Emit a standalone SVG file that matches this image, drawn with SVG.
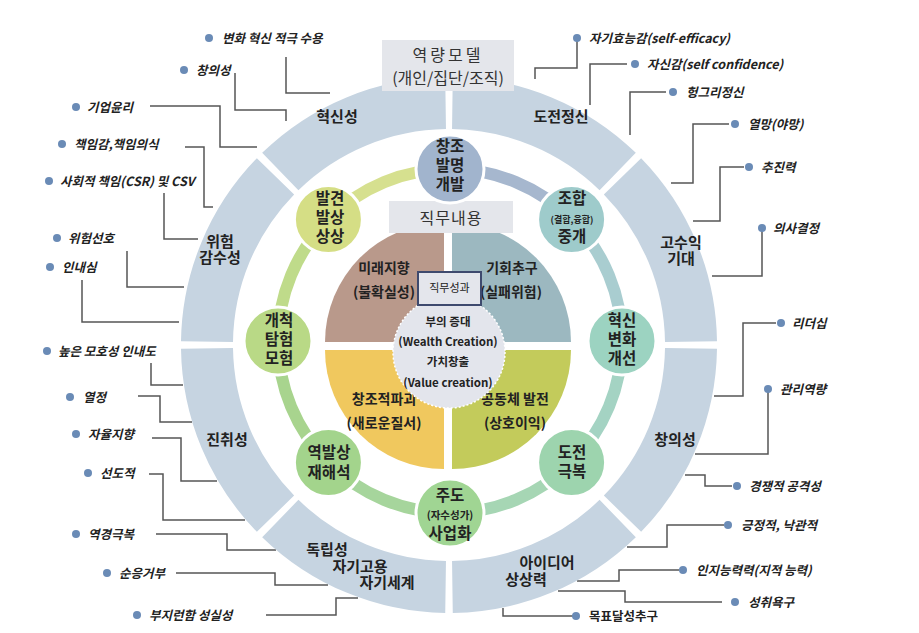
<svg xmlns="http://www.w3.org/2000/svg" width="919" height="633" viewBox="0 0 919 633">
<defs>
<style>
text{font-family:"Noto Sans CJK KR","Noto Sans",sans-serif;fill:#222;}
.seg{fill:none;stroke:#c6d4e1;stroke-width:52;}
.rl{font-size:15px;font-weight:bold;text-anchor:middle;}
.cl{font-size:15.5px;font-weight:bold;text-anchor:middle;}
.cs{font-size:9px;}
.ql{font-size:14px;font-weight:bold;text-anchor:middle;}
.ct{font-size:11.5px;font-weight:bold;text-anchor:middle;}
.co{font-size:12.5px;font-weight:bold;font-style:italic;}
.dot{fill:#6a8bb6;}
.ln{fill:none;stroke:#555;stroke-width:1.5;}
.node{stroke:#fff;stroke-width:3;}
.band{fill:none;stroke-width:12;}
.box{fill:#e4e6eb;}
.hd{font-size:16px;text-anchor:middle;fill:#333;}
</style>
</defs>
<rect width="919" height="633" fill="#fff"/>

<g id="connectors">
<polyline class="ln" points="286,57 286,93 330,93"/>
<polyline class="ln" points="235,73 235,110 286,110 286,121"/>
<polyline class="ln" points="150,106 220,106 220,147 257,147"/>
<polyline class="ln" points="185,147 204,147 204,207 213,207"/>
<polyline class="ln" points="164,193 164,239 198,239"/>
<polyline class="ln" points="127,251 127,287 184,287"/>
<polyline class="ln" points="82,280 82,322 179,322"/>
<polyline class="ln" points="151,363 151,385 183,385"/>
<polyline class="ln" points="138,396 160,396 160,422 192,422"/>
<polyline class="ln" points="152,438 181,438 181,481 217,481"/>
<polyline class="ln" points="149,474 163,474 163,520 245,520"/>
<polyline class="ln" points="156,534 227,534 227,550 276,550"/>
<polyline class="ln" points="176,573 275,573 275,585 328,585"/>
<polyline class="ln" points="266,615 336,615 336,598 358,598"/>
<polyline class="ln" points="577,38 577,68 535,68 535,79"/>
<polyline class="ln" points="627,64 590,64 590,105"/>
<polyline class="ln" points="666,92 630,92 630,135"/>
<polyline class="ln" points="729,124 693,124 693,183 671,183"/>
<polyline class="ln" points="744,167 720,167 720,221 693,221"/>
<polyline class="ln" points="762,228 762,276 712,276"/>
<polyline class="ln" points="776,323 743,323 743,396 714,396"/>
<polyline class="ln" points="768,389 768,454 695,454"/>
<polyline class="ln" points="732,486 705,486 705,475 685,475"/>
<polyline class="ln" points="724,525 667,525 667,547 627,547"/>
<polyline class="ln" points="679,570 619,570 619,581 577,581"/>
<polyline class="ln" points="722,602 625,602 625,591 558,591"/>
<polyline class="ln" points="576,616 503,616 503,608"/>
</g>

<g id="outer-ring">
<g id="seg-hyeoksinseong"><path class="seg" d="M280.3,171.5 A242,242 0 0 1 445.6,103"/><text class="rl" x="337" y="122">혁신성</text></g>
<g id="seg-dojeonjeongsin"><path class="seg" d="M452.4,103 A242,242 0 0 1 617.7,171.5"/><text class="rl" x="561" y="122">도전정신</text></g>
<g id="seg-gosuik"><path class="seg" d="M622.5,176.3 A242,242 0 0 1 691,341.6"/><text class="rl"><tspan x="681" y="248">고수익</tspan><tspan x="681" y="264">기대</tspan></text></g>
<g id="seg-changuiseong"><path class="seg" d="M691,348.4 A242,242 0 0 1 622.5,513.7"/><text class="rl" x="675" y="445">창의성</text></g>
<g id="seg-idea"><path class="seg" d="M617.7,518.5 A242,242 0 0 1 452.4,587"/><text class="rl"><tspan x="547" y="568">아이디어</tspan><tspan x="526" y="585">상상력</tspan></text></g>
<g id="seg-dongnip"><path class="seg" d="M445.6,587 A242,242 0 0 1 280.3,518.5"/><text class="rl"><tspan x="327" y="555">독립성</tspan><tspan x="360" y="572">자기고용</tspan><tspan x="387" y="588">자기세계</tspan></text></g>
<g id="seg-jinchwi"><path class="seg" d="M275.5,513.7 A242,242 0 0 1 207,348.4"/><text class="rl" x="227" y="445">진취성</text></g>
<g id="seg-wiheom"><path class="seg" d="M207,341.6 A242,242 0 0 1 275.5,176.3"/><text class="rl"><tspan x="220" y="247">위험</tspan><tspan x="220" y="263">감수성</tspan></text></g>
</g>

<g id="model-title">
<rect class="box" x="382" y="40" width="132" height="51"/>
<text class="hd"><tspan x="448" y="61" letter-spacing="3">역량모델</tspan><tspan x="448" y="84">(개인/집단/조직)</tspan></text>
</g>

<g id="middle-ring">
<path class="band" stroke="#a6b7ce" d="M450,169 A172,172 0 0 1 571.62,219.38"/>
<path class="band" stroke="#a9cdd0" d="M571.62,219.38 A172,172 0 0 1 622,341"/>
<path class="band" stroke="#a4d3c3" d="M622,341 A172,172 0 0 1 571.62,462.62"/>
<path class="band" stroke="#a6d6b4" d="M571.62,462.62 A172,172 0 0 1 450,513"/>
<path class="band" stroke="#a6d59c" d="M450,513 A172,172 0 0 1 328.38,462.62"/>
<path class="band" stroke="#a8d48e" d="M328.38,462.62 A172,172 0 0 1 278,341"/>
<path class="band" stroke="#bfdb8a" d="M278,341 A172,172 0 0 1 328.38,219.38"/>
<path class="band" stroke="#d6e08f" d="M328.38,219.38 A172,172 0 0 1 450,169"/>
</g>

<g id="pie">
<path fill="#b9998b" d="M444,342 L325,342 A119,119 0 0 1 444,223 Z"/>
<path fill="#9cb8c0" d="M452,342 L452,223 A119,119 0 0 1 571,342 Z"/>
<path fill="#f0c85e" d="M444,350 L444,469 A119,119 0 0 1 325,350 Z"/>
<path fill="#c3cb5b" d="M452,350 L571,350 A119,119 0 0 1 452,469 Z"/>
<text class="ql"><tspan x="384" y="273">미래지향</tspan><tspan x="384" y="297">(불확실성)</tspan></text>
<text class="ql"><tspan x="512" y="273">기회추구</tspan><tspan x="511" y="297">(실패위험)</tspan></text>
<text class="ql"><tspan x="384" y="404">창조적파괴</tspan><tspan x="384" y="428">(새로운질서)</tspan></text>
<text class="ql"><tspan x="515" y="404">공동체 발전</tspan><tspan x="515" y="428">(상호이익)</tspan></text>
</g>

<g id="job-content">
<rect class="box" x="389" y="201" width="124" height="32"/>
<text class="hd" x="451" y="224" font-size="17" letter-spacing="1">직무내용</text>
</g>

<g id="wealth">
<circle cx="449" cy="352" r="56" fill="#e3e5ec" stroke="#fff" stroke-width="1.5" stroke-dasharray="2 2"/>
<text class="ct"><tspan x="448" y="326">부의 증대</tspan><tspan x="448" y="346">(Wealth Creation)</tspan><tspan x="448" y="366">가치창출</tspan><tspan x="448" y="387">(Value creation)</tspan></text>
</g>

<g id="job-performance">
<rect x="418" y="272" width="63" height="33" fill="#e4e6ec" stroke="#3e4a6e" stroke-width="2"/>
<text x="449.5" y="292" font-size="11" text-anchor="middle" fill="#333">직무성과</text>
</g>

<g id="n-changjo"><circle class="node" cx="450" cy="169" r="34" fill="#a1b4cd"/><text class="cl"><tspan x="450" y="152">창조</tspan><tspan x="450" y="171">발명</tspan><tspan x="450" y="190">개발</tspan></text></g>
<g id="n-johap"><circle class="node" cx="571.6" cy="219.4" r="34" fill="#9ecbcb"/><text class="cl"><tspan x="572" y="204">조합</tspan><tspan class="cs" x="572" y="223">(결합,융합)</tspan><tspan x="572" y="242">중개</tspan></text></g>
<g id="n-hyeoksin"><circle class="node" cx="622" cy="341" r="34" fill="#9cd3c1"/><text class="cl"><tspan x="622" y="326">혁신</tspan><tspan x="622" y="345">변화</tspan><tspan x="622" y="364">개선</tspan></text></g>
<g id="n-dojeon"><circle class="node" cx="571.6" cy="462.6" r="34" fill="#9dd4ae"/><text class="cl"><tspan x="572" y="458">도전</tspan><tspan x="572" y="477">극복</tspan></text></g>
<g id="n-judo"><circle class="node" cx="450" cy="513" r="34" fill="#a0d593"/><text class="cl"><tspan x="450" y="501">주도</tspan><tspan x="450" y="519" font-size="10.5">(자수성가)</tspan><tspan x="450" y="539">사업화</tspan></text></g>
<g id="n-yeokbalsang"><circle class="node" cx="328.4" cy="462.6" r="34" fill="#a3d48c"/><text class="cl"><tspan x="329" y="458">역발상</tspan><tspan x="329" y="478">재해석</tspan></text></g>
<g id="n-gaecheok"><circle class="node" cx="278" cy="341" r="34" fill="#b9d986"/><text class="cl"><tspan x="279" y="326">개척</tspan><tspan x="279" y="345">탐험</tspan><tspan x="279" y="364">모험</tspan></text></g>
<g id="n-balgyeon"><circle class="node" cx="328.4" cy="219.4" r="34" fill="#d5de85"/><text class="cl"><tspan x="330" y="204">발견</tspan><tspan x="330" y="223">발상</tspan><tspan x="330" y="242">상상</tspan></text></g>

<g id="callouts-left">
<circle class="dot" cx="209" cy="38" r="4"/><text class="co" x="222" y="43">변화 혁신 적극 수용</text>
<circle class="dot" cx="184" cy="70" r="4"/><text class="co" x="196" y="75">창의성</text>
<circle class="dot" cx="76" cy="107" r="4"/><text class="co" x="87" y="112">기업윤리</text>
<circle class="dot" cx="62" cy="144" r="4"/><text class="co" x="74" y="149">책임감,책임의식</text>
<circle class="dot" cx="49" cy="181" r="4"/><text class="co" x="60" y="186">사회적 책임(CSR) 및 CSV</text>
<circle class="dot" cx="57" cy="238" r="4"/><text class="co" x="68" y="243">위험선호</text>
<circle class="dot" cx="50" cy="267" r="4"/><text class="co" x="62" y="272">인내심</text>
<circle class="dot" cx="47" cy="351" r="4"/><text class="co" x="58" y="356">높은 모호성 인내도</text>
<circle class="dot" cx="70" cy="397" r="4"/><text class="co" x="83" y="402">열정</text>
<circle class="dot" cx="76" cy="434" r="4"/><text class="co" x="88" y="439">자율지향</text>
<circle class="dot" cx="88" cy="473" r="4"/><text class="co" x="100" y="478">선도적</text>
<circle class="dot" cx="76" cy="534" r="4"/><text class="co" x="88" y="539">역경극복</text>
<circle class="dot" cx="107" cy="573" r="4"/><text class="co" x="119" y="578">순응거부</text>
<circle class="dot" cx="137" cy="615" r="4"/><text class="co" x="149" y="620">부지런함 성실성</text>
</g>

<g id="callouts-right">
<circle class="dot" cx="577" cy="38" r="4"/><text class="co" x="589" y="43">자기효능감(self-efficacy)</text>
<circle class="dot" cx="635" cy="64" r="4"/><text class="co" x="647" y="69">자신감(self confidence)</text>
<circle class="dot" cx="673" cy="92" r="4"/><text class="co" x="686" y="97">헝그리정신</text>
<circle class="dot" cx="735" cy="124" r="4"/><text class="co" x="748" y="129">열망(야망)</text>
<circle class="dot" cx="749" cy="167" r="4"/><text class="co" x="761" y="172">추진력</text>
<circle class="dot" cx="762" cy="228" r="4"/><text class="co" x="773" y="233">의사결정</text>
<circle class="dot" cx="781" cy="323" r="4"/><text class="co" x="792" y="328">리더십</text>
<circle class="dot" cx="768" cy="389" r="4"/><text class="co" x="780" y="394">관리역량</text>
<circle class="dot" cx="737" cy="486" r="4"/><text class="co" x="749" y="491">경쟁적 공격성</text>
<circle class="dot" cx="728" cy="525" r="4"/><text class="co" x="741" y="530">긍정적, 낙관적</text>
<circle class="dot" cx="683" cy="570" r="4"/><text class="co" x="696" y="575">인지능력력(지적 능력)</text>
<circle class="dot" cx="735" cy="602" r="4"/><text class="co" x="748" y="607">성취욕구</text>
<circle class="dot" cx="576" cy="616" r="4"/><text x="589" y="621" font-size="12.5" font-weight="bold">목표달성추구</text>
</g>
</svg>
